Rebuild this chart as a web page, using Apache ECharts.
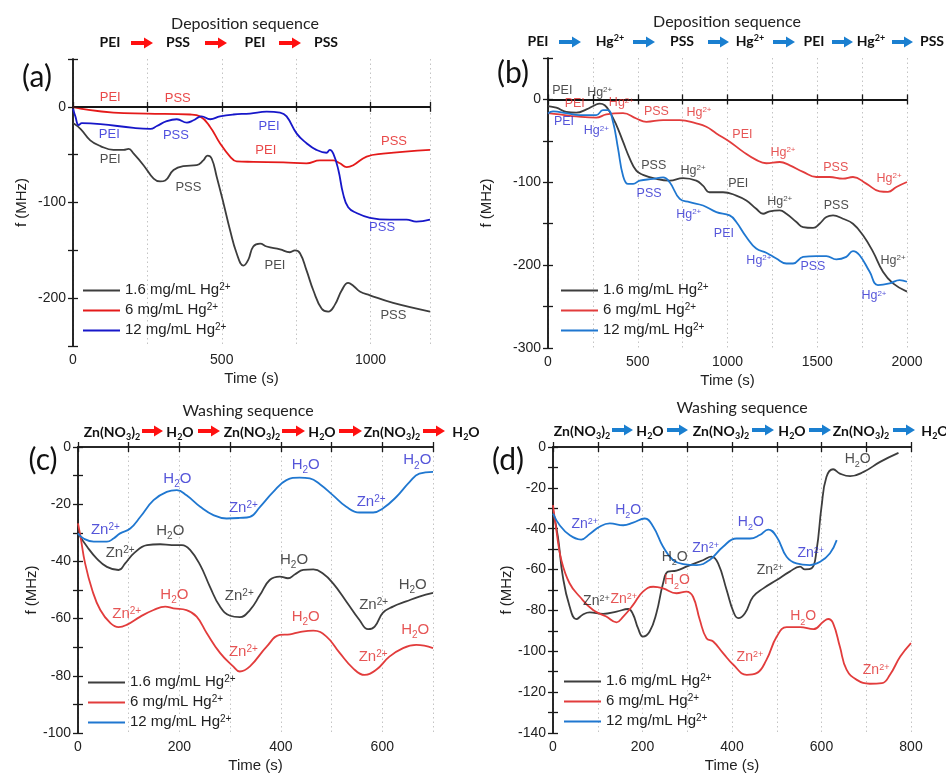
<!DOCTYPE html>
<html>
<head>
<meta charset="utf-8">
<script src="https://cdn.jsdelivr.net/npm/echarts@6/dist/echarts.min.js"></script>
<style>
  html, body { margin: 0; padding: 0; background: #fff; }
  #chart { width: 946px; height: 776px; }
</style>
</head>
<body>
<div id="chart"></div>
<script>
// ---- data: [time (s), f (MHz)] ----
// (a) deposition without Hg rinse
const a16 = [[0,-17],[25,-23],[58,-35],[92,-41],[136,-45],[170,-45],[187,-44],[204,-49],[237,-61],[271,-75],[293,-78],[310,-77],[338,-66],[371,-62],[416,-61],[438,-56],[452,-51],[466,-54],[483,-73],[506,-101],[528,-129],[550,-153],[573,-166],[589,-160],[606,-146],[629,-143],[651,-146],[696,-149],[729,-152],[746,-150],[763,-153],[785,-171],[808,-192],[836,-211],[858,-214],[880,-207],[903,-192],[925,-184],[942,-187],[964,-193],[998,-197],[1076,-205],[1200,-214]];
const a6 = [[0,0],[47,-3],[136,-6],[248,-7],[394,-8],[427,-10],[461,-21],[494,-38],[528,-52],[550,-57],[606,-57.5],[707,-58],[785,-59],[830,-56],[875,-56],[897,-59],[920,-63],[942,-61],[987,-52],[1042,-49],[1200,-45]];
const a12 = [[0,-2],[8,-10],[19,-19],[30,-17],[92,-18],[204,-22],[260,-23],[282,-20],[315,-15],[349,-13],[383,-16.5],[405,-14],[432,-10],[461,-13],[494,-10],[539,-8],[595,-7],[651,-5],[696,-6],[718,-10],[752,-28],[785,-38],[818,-45],[852,-48],[863,-45],[875,-49],[892,-66],[908,-91],[925,-105],[953,-111],[998,-116],[1065,-118],[1121,-118],[1154,-120],[1200,-118]];
// (b) deposition with Hg2+ steps
const b16 = [[0,-8],[46,-10],[102,-15],[158,-16],[214,-12],[260,-7],[288,-5],[316,-7],[344,-15],[381,-31],[418,-51],[455,-71],[492,-86],[529,-91],[604,-96],[678,-98],[752,-95],[826,-98],[863,-104],[900,-112],[975,-112],[1049,-116],[1105,-122],[1160,-132],[1198,-138],[1235,-135],[1291,-134],[1328,-138],[1384,-148],[1421,-154],[1477,-155],[1513,-150],[1551,-142],[1588,-140],[1643,-144],[1699,-150],[1755,-164],[1811,-184],[1866,-208],[1922,-222],[2000,-232]];
const b6 = [[0,-16.5],[65,-18],[158,-20.5],[269,-22],[325,-18],[418,-16.5],[492,-23],[548,-27],[641,-25],[734,-25],[826,-29],[882,-33],[938,-41],[1012,-51],[1086,-63],[1160,-73],[1216,-77],[1291,-75.5],[1347,-79.5],[1421,-87.5],[1495,-93.6],[1569,-93.6],[1643,-95.6],[1699,-93.6],[1773,-101.6],[1848,-111],[1894,-111.6],[1941,-105.6],[2000,-99.6]];
const b12 = [[0,-17],[28,-14.5],[102,-16.5],[176,-19],[269,-19],[306,-13],[334,-13],[362,-27],[390,-59],[418,-92],[446,-102],[474,-102],[511,-98],[585,-96],[641,-94],[678,-100],[734,-120],[789,-124],[864,-128],[938,-136],[1012,-140],[1049,-148],[1105,-166],[1160,-180],[1216,-185],[1272,-192],[1328,-198],[1365,-198],[1421,-190],[1495,-189],[1551,-189],[1606,-193],[1662,-190],[1699,-183],[1736,-188],[1792,-208],[1838,-224],[1903,-222],[1959,-218],[2000,-220]];
// (c) washing
const c16 = [[0,-30.2],[18,-34.9],[37,-39],[57,-41.9],[80,-43],[93,-40.7],[110,-37.2],[136,-34.3],[162,-34],[185,-34.3],[205,-34.3],[221,-36],[241,-41.3],[260,-48.8],[280,-55.8],[300,-59],[319,-59.5],[339,-57],[359,-51.7],[378,-46.5],[398,-45.3],[414,-45.9],[428,-44.5],[444,-43],[464,-42.8],[483,-44.2],[503,-47.7],[529,-54],[555,-60.5],[572,-63.7],[585,-62.8],[601,-58],[621,-55.8],[647,-54],[673,-52.3],[700,-51]];
const c6 = [[0,-26.7],[5,-31.4],[14,-40.7],[28,-50],[44,-57],[64,-61.6],[80,-63],[96,-62.2],[123,-59.3],[149,-57],[172,-55.8],[188,-56.4],[214,-57],[234,-59.3],[254,-65.1],[280,-72],[306,-76.7],[319,-78.5],[339,-76.7],[372,-69.8],[398,-65.7],[418,-65.5],[437,-64.7],[464,-64.2],[490,-66.3],[516,-72],[542,-77.3],[565,-79.7],[588,-77.9],[614,-73.3],[641,-70.3],[667,-69.2],[700,-70.3]];
const c12 = [[0,-30.2],[11,-32],[31,-33.1],[57,-33.1],[70,-32],[83,-30.2],[103,-28.5],[123,-24.4],[149,-18.6],[175,-15.7],[195,-15.1],[214,-16.9],[241,-20.9],[267,-23.8],[293,-25],[319,-24.8],[339,-24.4],[359,-20.9],[385,-15.7],[411,-11.6],[437,-10.7],[457,-11],[477,-13],[503,-16.9],[529,-20.9],[555,-22.9],[582,-22.9],[601,-21.5],[628,-17.4],[654,-12.2],[673,-9.3],[700,-8.7]];
// (d) washing
const d16 = [[0,-31],[11,-44],[22,-63.5],[37,-78],[52,-84.3],[67,-82],[82,-81],[112,-81.7],[142,-80.6],[168,-79.3],[179,-82],[190,-88.7],[201,-92.8],[216,-90.3],[231,-81.4],[246,-66.7],[257,-61],[276,-60.5],[298,-58.6],[336,-55.3],[354,-53.7],[369,-57],[388,-70],[403,-80.6],[414,-83.8],[429,-81.4],[447,-73.3],[470,-69.2],[500,-65.1],[529,-61],[552,-58.6],[563,-59.9],[578,-59.4],[589,-50.5],[600,-29.3],[611,-14.7],[626,-10.9],[641,-13],[664,-14.3],[694,-12.2],[731,-7.3],[772,-2.9]];
const d6 = [[0,-28.5],[7.5,-40.7],[18.6,-55.3],[37,-66.7],[60,-73.3],[89.5,-79.8],[119,-83],[142,-85.8],[157,-83],[179,-77.3],[201,-70.8],[224,-68.4],[246,-69.2],[276,-71.6],[298,-70.8],[313,-73.3],[328,-84.6],[343,-93.6],[358,-95.2],[380,-100.9],[403,-106.6],[433,-111.5],[455,-110.7],[477,-104.2],[500,-92.8],[522,-88.2],[552,-88.2],[582,-89.2],[604,-85.5],[615,-84.2],[626,-86.3],[641,-97.7],[656,-109],[679,-114],[708,-115.9],[735,-115.6],[753,-111.5],[776,-102.6],[800,-96]];
const d12 = [[0,-32.6],[15,-38.3],[37,-43.1],[63,-45.3],[82,-42.6],[104,-39],[127,-37.4],[157,-38.3],[179,-37],[205,-35],[224,-39],[246,-48.8],[268,-55.3],[291,-57.3],[321,-57.8],[350,-55.3],[380,-48.8],[410,-44.8],[440,-44.8],[462,-43.1],[481,-40.4],[500,-44],[522,-53.7],[544,-57],[574,-57.8],[597,-56.2],[619,-52],[634,-45.6]];

// ---- curve annotations: [time, f, text, colour key] ----
const annA = [[125,8.4,'PEI','r'],[352,7.7,'PSS','r'],[122,-29.6,'PEI','b'],[346,-31.4,'PSS','b'],[125,-56,'PEI','k'],[388,-85,'PSS','k'],[659,-22,'PEI','b'],[648,-47,'PEI','r'],[679,-167,'PEI','k'],[1079,-37,'PSS','r'],[1039,-127,'PSS','b'],[1077,-219,'PSS','k']];
const annB = [[80,9.6,'PEI','k'],[288,8,'Hg','k'],[149,-6.4,'PEI','r'],[409,-5.2,'Hg','r'],[89,-28,'PEI','b'],[269,-39,'Hg','b'],[604,-15,'PSS','r'],[841,-16.5,'Hg','r'],[589,-81,'PSS','k'],[808,-87,'Hg','k'],[563,-115,'PSS','b'],[1083,-43,'PEI','r'],[1060,-102,'PEI','k'],[784,-140,'Hg','b'],[1309,-65,'Hg','r'],[1291,-124,'Hg','k'],[980,-163,'PEI','b'],[1175,-195,'Hg','b'],[1603,-83,'PSS','r'],[1606,-128.5,'PSS','k'],[1476,-203,'PSS','b'],[1900,-96,'Hg','r'],[1922,-195,'Hg','k'],[1816,-238,'Hg','b']];
const annC = [[54,-29.4,'Zn','b'],[83,-37.4,'Zn','k'],[182,-29.7,'H2O','k'],[96,-58.7,'Zn','r'],[190,-52,'H2O','r'],[196,-11.4,'H2O','b'],[326,-21.7,'Zn','b'],[318,-52.3,'Zn','k'],[326,-72,'Zn','r'],[449,-6.7,'H2O','b'],[426,-39.9,'H2O','k'],[449,-59.7,'H2O','r'],[578,-19.4,'Zn','b'],[583,-55.5,'Zn','k'],[582,-73.8,'Zn','r'],[669,-5,'H2O','b'],[660,-48.5,'H2O','k'],[665,-64.3,'H2O','r']];
const annD = [[71,-38.3,'Zn','b'],[168,-31.3,'H2O','b'],[272,-54.5,'H2O','k'],[97,-75.9,'Zn','k'],[158,-74.9,'Zn','r'],[277,-65.9,'H2O','r'],[341,-50,'Zn','b'],[442,-37.4,'H2O','b'],[485,-60.7,'Zn','k'],[440,-103.4,'Zn','r'],[576,-52.6,'Zn','b'],[559,-83.5,'H2O','r'],[681,-6.5,'H2O','k'],[722,-109.9,'Zn','r']];

// ---- sequences written above the panels ----
const seqA = ['PEI','PSS','PEI','PSS'];
const seqB = ['PEI','Hg','PSS','Hg','PEI','Hg','PSS'];
const seqC = ['ZnNO3','H2O','ZnNO3','H2O','ZnNO3','H2O'];
const legendNames = ['1.6 mg/mL Hg', '6 mg/mL Hg', '12 mg/mL Hg'];

const FONT = '"Liberation Sans", Arial, sans-serif';
const HEAD = 'Lato, "Open Sans", sans-serif';

function richOf(fs) {
  const s = Math.round(fs * 0.66);
  return {
    n: { fontSize: fs, lineHeight: fs + 2, verticalAlign: 'top' },
    p: { fontSize: s, lineHeight: s, verticalAlign: 'top' },
    b: { fontSize: s, lineHeight: s, verticalAlign: 'top', padding: [Math.round(fs * 0.55), 0, 0, 0] }
  };
}
const texts = {
  PEI: '{n|PEI}', PSS: '{n|PSS}', Hg: '{n|Hg}{p|2+}', Zn: '{n|Zn}{p|2+}',
  H2O: '{n|H}{b|2}{n|O}', ZnNO3: '{n|Zn(NO}{b|3}{n|)}{b|2}'
};

const chart = echarts.init(document.getElementById('chart'));

const grids = [
  { left: 73, top: 59, width: 357, height: 287 },
  { left: 548, top: 58, width: 359, height: 290 },
  { left: 78, top: 447, width: 355, height: 286 },
  { left: 553, top: 447, width: 358, height: 286 }
];
// [min, max, tick interval, label step]
const xr = [[0, 1200, 250, 500], [0, 2000, 250, 500], [0, 700, 100, 200], [0, 800, 100, 200]];
const yr = [[-250, 50, 50, 100], [-300, 50, 50, 100], [-100, 0, 10, 20], [-140, 0, 10, 20]];
const yNameGap = [44, 54, 36, 36];

const frame = { show: true, lineStyle: { color: '#1a1a1a', width: 1.5 } };
const ticks = { show: true, inside: true, length: 5, lineStyle: { color: '#1a1a1a', width: 1.3 } };

const xAxis = [], yAxis = [];
grids.forEach((g, i) => {
  xAxis.push({
    type: 'value', gridIndex: i, min: xr[i][0], max: xr[i][1], interval: xr[i][2],
    name: 'Time (s)', nameLocation: 'middle', nameGap: 25,
    nameTextStyle: { fontFamily: FONT, fontSize: 15, color: '#222' },
    axisLine: frame, axisTick: ticks,
    axisLabel: { fontFamily: FONT, fontSize: 14, color: '#222', margin: 7, showMaxLabel: true,
      formatter: v => (v % xr[i][3] === 0 ? String(v) : '') },
    splitLine: { show: true, lineStyle: { type: [1.5, 3], color: '#c4c4c4', width: 1 } }
  });
  yAxis.push({
    type: 'value', gridIndex: i, min: yr[i][0], max: yr[i][1], interval: yr[i][2],
    name: 'f (MHz)', nameLocation: 'middle', nameGap: yNameGap[i],
    nameTextStyle: { fontFamily: FONT, fontSize: 15, color: '#222' },
    axisLine: frame, axisTick: ticks,
    axisLabel: { fontFamily: FONT, fontSize: 14, color: '#222', margin: 7,
      formatter: v => (v % yr[i][3] === 0 ? String(v) : '') },
    splitLine: { show: false }
  });
});
grids.forEach((g, i) => {
  xAxis.push({ type: 'value', gridIndex: i, position: 'top', min: xr[i][0], max: xr[i][1], interval: xr[i][2],
    axisLine: frame, axisTick: ticks, axisLabel: { show: false }, splitLine: { show: false } });
  yAxis.push({ type: 'value', gridIndex: i, position: 'right', min: yr[i][0], max: yr[i][1], interval: yr[i][2],
    axisLine: frame, axisTick: ticks, axisLabel: { show: false }, splitLine: { show: false } });
});

const colA = ['#3d3d3d', '#e41a1a', '#1717c9'];
const colB = ['#3d3d3d', '#e23c3c', '#1f77d0'];
const annCol = [
  { k: '#222', r: '#e41a1a', b: '#1f1fd6' },
  { k: '#222', r: '#e02a2a', b: '#2a2ad0' },
  { k: '#222', r: '#e02a2a', b: '#2a2ad0' },
  { k: '#222', r: '#e02a2a', b: '#2a2ad0' }
];
const curves = [[a16, a6, a12], [b16, b6, b12], [c16, c6, c12], [d16, d6, d12]];
const notes = [annA, annB, annC, annD];
const noteSize = [13, 12.5, 15, 14];

const series = [];
curves.forEach((set, i) => {
  const cols = i === 0 ? colA : colB;
  set.forEach((data, j) => {
    const s = {
      type: 'line', name: 'p' + i + '-' + j, data, xAxisIndex: i, yAxisIndex: i,
      showSymbol: false, symbol: 'none', smooth: 0.45,
      lineStyle: { color: cols[j], width: 1.8 }, itemStyle: { color: cols[j] }, z: 3, silent: true
    };
    if (j === 0 && i < 2) {
      s.markLine = { silent: true, symbol: 'none', label: { show: false },
        lineStyle: { color: '#111', width: 1.6, type: 'solid' }, data: [{ yAxis: 0 }] };
    }
    series.push(s);
  });
  series.push({
    type: 'scatter', xAxisIndex: i, yAxisIndex: i, symbolSize: 0, silent: true, z: 5,
    data: notes[i].map(a => ({ value: [a[0], a[1]], label: { color: annCol[i][a[3]] } })),
    label: { show: true, position: 'inside', fontFamily: FONT, fontSize: noteSize[i],
      formatter: p => texts[notes[i][p.dataIndex][2]], rich: richOf(noteSize[i]) }
  });
});

const legendPos = [[78, 277], [556, 277], [83, 669], [559, 668]];
const legend = legendPos.map((pos, i) => ({
  orient: 'vertical', left: pos[0], top: pos[1], itemWidth: 37, itemHeight: 2, itemGap: 5,
  icon: 'rect', selectedMode: false,
  data: [0, 1, 2].map(j => 'p' + i + '-' + j),
  formatter: n => '{n|' + legendNames[+n.split('-')[1]] + '}{p|2+}',
  textStyle: { fontFamily: FONT, fontSize: 15, color: '#222', rich: richOf(15) }
}));

// header decorations
const headRich = {
  n: { fontFamily: HEAD, fontWeight: 'bold', fontSize: 14, lineHeight: 16, verticalAlign: 'top', fill: '#111' },
  p: { fontFamily: HEAD, fontWeight: 'bold', fontSize: 9, lineHeight: 9, verticalAlign: 'top', fill: '#111' },
  b: { fontFamily: HEAD, fontWeight: 'bold', fontSize: 9, lineHeight: 9, verticalAlign: 'top', padding: [8, 0, 0, 0], fill: '#111' }
};
const graphic = [];
function word(key, x, y) {
  graphic.push({ type: 'text', x, y, silent: true,
    style: { text: texts[key], rich: headRich, align: 'center', verticalAlign: 'middle',
      font: 'bold 14px ' + HEAD, fill: '#111' } });
}
function arrow(x0, x1, y, color) {
  const h = 9;
  graphic.push({ type: 'polygon', silent: true,
    shape: { points: [[x0, y - 2], [x1 - h, y - 2], [x1 - h, y - 5.5], [x1, y], [x1 - h, y + 5.5], [x1 - h, y + 2], [x0, y + 2]] },
    style: { fill: color } });
}
function title(t, x, y) {
  graphic.push({ type: 'text', x, y, silent: true,
    style: { text: t, font: '16px ' + HEAD, fill: '#222', align: 'center', verticalAlign: 'middle' } });
}
function panel(t, x, y) {
  graphic.push({ type: 'text', x, y, silent: true,
    style: { text: t, font: '30px ' + HEAD, fill: '#111', align: 'center', verticalAlign: 'middle' } });
}
const RED = '#ff1010', BLUE = '#1a7fd0';
title('Deposition sequence', 245, 24);
[110, 178, 255, 326].forEach((x, k) => word(seqA[k], x, 43));
[[131, 153], [205, 227], [279, 301]].forEach(a => arrow(a[0], a[1], 43, RED));
title('Deposition sequence', 727, 22);
[538, 610, 682, 750, 814, 871, 932].forEach((x, k) => word(seqB[k], x, 42));
[[559, 581], [633, 655], [708, 729], [773, 795], [832, 853], [892, 913]].forEach(a => arrow(a[0], a[1], 42, BLUE));
title('Washing sequence', 248, 411);
[112, 180, 252, 322, 392, 466].forEach((x, k) => word(seqC[k], x, 433));
[[142, 163], [198, 220], [282, 305], [339, 362], [423, 445]].forEach(a => arrow(a[0], a[1], 431, RED));
title('Washing sequence', 742, 408);
[582, 650, 721, 792, 861, 935].forEach((x, k) => word(seqC[k], x, 432));
[[612, 633], [667, 688], [752, 774], [809, 831], [893, 915]].forEach(a => arrow(a[0], a[1], 430, BLUE));
panel('(a)', 37, 77);
panel('(b)', 513, 73);
panel('(c)', 43, 460);
panel('(d)', 508, 460);

chart.setOption({
  animation: false,
  backgroundColor: '#fff',
  grid: grids,
  xAxis, yAxis, series, legend, graphic
});
</script>
</body>
</html>
